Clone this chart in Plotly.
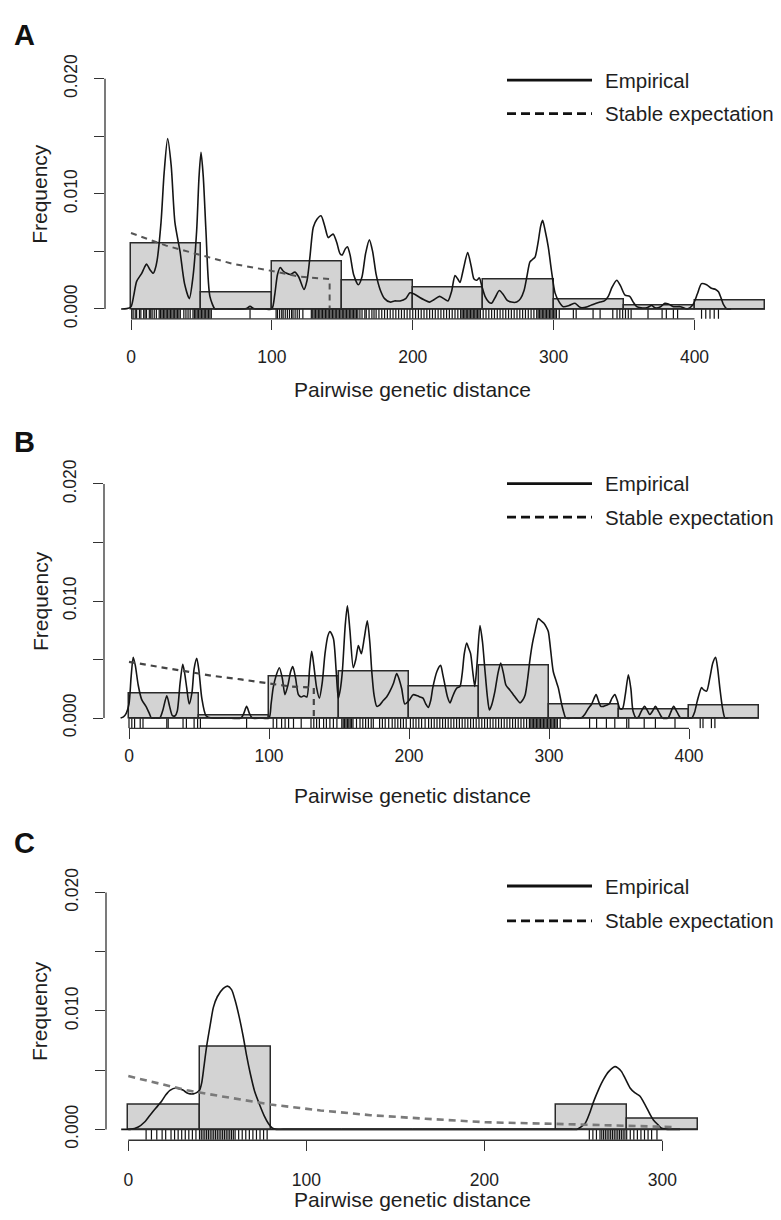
import plotly.graph_objects as go

W, H = 781, 1220

# ---------------- DATA ----------------
# Panel A
a_bin_left = [0, 50, 100, 150, 200, 250, 300, 350, 400]
a_bin_freq = [0.0057, 0.0014, 0.0041, 0.0025, 0.0019, 0.0026, 0.0008, 0.0003, 0.0007]
a_dens_x = [-7, -3, 0, 2, 4, 7.6, 9.5, 11, 13.5, 15.8, 17, 18.5, 21.3, 23.5, 26, 28.5, 31.2, 34.8,
            38, 41.4, 44, 46.6, 48.3, 49.7, 51.3, 53.2, 56, 59.6, 62, 65, 80, 82, 84.5, 87, 89, 95,
            100, 102, 104, 106, 108, 110.5, 113, 116.4, 119, 122.8, 125, 127, 129.4, 132, 134.9,
            137.5, 140, 142, 143.6, 146, 148.4, 150, 152, 153.6, 155.5, 158, 161.4, 164, 166.5,
            169.2, 171.5, 174, 176.8, 180, 183.9, 187, 191, 195, 198, 201, 205, 208, 212, 215, 219,
            222, 225, 227.5, 230, 232, 233.5, 236, 239, 241.5, 243.5, 245.5, 247.3, 249, 251.3, 254,
            256, 258.5, 261.4, 264, 266.7, 270, 273.8, 276.5, 279, 281, 283.2, 285, 286.8, 289,
            290.8, 292.2, 294, 296.2, 298.5, 301, 304, 306.9, 311, 315.2, 318, 320, 324, 328, 333,
            336, 338.8, 341.5, 344.8, 347.5, 350.7, 354, 356.5, 359, 362, 366, 369.6, 372, 376,
            379, 382, 385, 390, 395, 399, 402, 405, 408.6, 412, 415, 417, 419, 420.5, 423, 426]
a_dens_y = [0.0, 0.00003, 0.0002, 0.0012, 0.0024, 0.0031, 0.0036, 0.0039, 0.0034, 0.0031, 0.0034,
            0.0042, 0.0075, 0.0118, 0.0148, 0.0125, 0.0075, 0.0050, 0.0022, 0.0009, 0.0028, 0.0068,
            0.0115, 0.0136, 0.0115, 0.0068, 0.0011, 0.0, 0.0, 0.0, 0.0, 0.00005, 0.00023, 0.00005,
            0.0, 0.0, 0.0, 0.0012, 0.0030, 0.0036, 0.0033, 0.0031, 0.0030, 0.0032, 0.0028, 0.0017,
            0.0025, 0.0045, 0.0071, 0.0078, 0.0081, 0.0072, 0.0062, 0.0064, 0.0065, 0.0058, 0.0048,
            0.0047, 0.0052, 0.0054, 0.0047, 0.0030, 0.0021, 0.0028, 0.0048, 0.0060, 0.0050, 0.0030,
            0.0017, 0.0009, 0.0006, 0.0007, 0.0007, 0.0009, 0.0014, 0.0013, 0.0010, 0.0008, 0.0006,
            0.0008, 0.0011, 0.0009, 0.0007, 0.0015, 0.0029, 0.0026, 0.0023, 0.0035, 0.0049, 0.0037,
            0.0026, 0.0025, 0.0027, 0.0020, 0.0011, 0.0006, 0.0005, 0.0010, 0.0016, 0.0013, 0.0008,
            0.0006, 0.0006, 0.0009, 0.0016, 0.0028, 0.0041, 0.0043, 0.0045, 0.0058, 0.0072, 0.0077,
            0.0068, 0.0054, 0.0033, 0.0014, 0.0006, 0.0002, 0.0003, 0.0005, 0.0002, 0.0001, 0.0002,
            0.0004, 0.0006, 0.0007, 0.0011, 0.0019, 0.0025, 0.0020, 0.0012, 0.0011, 0.0006, 0.0002,
            0.0001, 0.0001, 0.0003, 0.0001, 0.0002, 0.0005, 0.0004, 0.0002, 0.0002, 0.0, 0.0004,
            0.0013, 0.0022, 0.0021, 0.0018, 0.0017, 0.0015, 0.0009, 0.0004, 0.0, 0.0]
a_exp_x = [0, 25, 49, 73, 96, 120, 141, 141]
a_exp_y = [0.0066, 0.0055, 0.0047, 0.0039, 0.0034, 0.0028, 0.0026, 0.0]
a_rug = [0.5, 1.5, 3, 4, 6, 7, 9, 10, 11, 13, 14, 15, 16.5, 18, 20, 21, 22, 23, 24, 25, 26, 27, 28,
         29, 30, 31, 32, 33, 34, 35, 37.5, 39, 40.5, 42, 44, 45, 46, 47, 48, 49, 50, 51, 52, 53, 54,
         55, 56, 57, 84.5, 103, 104, 105.5, 107, 108, 109.5, 111, 112.5, 114, 115, 116.5, 118, 119.5,
         122, 128, 129, 130, 131, 132, 133, 134, 135, 136, 137, 138, 139, 140, 141, 142, 143, 144,
         145, 146, 147, 148, 149, 150, 151, 152, 153, 154, 155, 156, 157, 158, 159, 160, 161, 162.5,
         164, 166, 167, 169, 171, 172.5, 174, 176, 178, 180, 182, 184, 186, 188, 190, 192, 194, 196,
         198, 200, 202, 204, 206, 208, 210, 212, 214, 216, 218, 220, 222, 224, 226, 228, 230, 232,
         234, 235, 236, 237, 238, 239, 240, 241, 242, 243, 244, 245, 246, 247, 248, 250, 252, 254,
         256, 258, 260, 262, 264, 266, 268, 270, 272, 274, 276, 278, 280, 282, 284, 286, 288, 289,
         290, 291, 292, 293, 294, 295, 296, 297, 298, 299, 300, 301, 302, 304, 314, 316, 328, 333,
         342, 345, 347, 349, 351, 353, 355, 367, 377, 380, 385, 388, 405, 408, 411, 414, 417]

# Panel B
b_bin_left = [0, 50, 100, 150, 200, 250, 300, 350, 400]
b_bin_freq = [0.0021, 0.0002, 0.0036, 0.0040, 0.0027, 0.0045, 0.0012, 0.0007, 0.0011]
b_dens_x = [-6, -4, -2, 0, 1.5, 3, 4.5, 6.6, 9, 12.6, 14.5, 16, 19, 22, 24, 27, 29, 31, 33, 34.5,
            36.5, 38.4, 39.8, 41.2, 43, 45, 46.5, 48.4, 50, 52, 55, 59, 70, 80, 82, 84, 86, 88, 94,
            100, 101.5, 103, 105, 107.4, 109.5, 111.4, 113.5, 115.5, 117, 119, 121, 123, 125, 127,
            129, 130.5, 132, 134, 136, 138, 140, 142, 143.6, 146, 148, 149.5, 151, 152.4, 154.5,
            156, 157.8, 160.2, 162, 163.8, 165, 166, 168, 170.2, 172, 173.4, 175, 177, 179, 181.6,
            184, 186.4, 189, 191.2, 193, 194.8, 197, 200, 203, 206, 208, 210, 212, 213.8, 215.5,
            217, 220, 222.6, 224, 225.7, 227.5, 229.3, 231, 232.8, 234.5, 236.4, 238, 239.5, 241.2,
            242.5, 244, 245.5, 247, 248.5, 250.7, 252.5, 254.3, 256, 257.4, 259, 261.4, 263.5,
            265.5, 267.5, 269.3, 272, 274.5, 277, 279.3, 281, 283, 284.8, 286.4, 288.2, 290, 292.4,
            294.5, 296.4, 298, 299.5, 301, 303, 305, 306.6, 308, 309, 310.5, 312, 317, 323, 325.5,
            328, 330.5, 333.6, 335.5, 337, 339, 341, 343, 345, 347, 348.8, 350.7, 352.5, 354.5,
            356.7, 358.5, 360, 362.4, 364, 366, 368.3, 370, 372, 374, 376, 378.5, 381, 385, 387,
            389, 391.5, 394, 398, 402, 404, 406, 409, 410.5, 412.6, 415, 417, 419, 420.5, 422, 424,
            425.7, 428]
b_dens_y = [0.0, 0.0001, 0.0004, 0.0012, 0.0035, 0.0052, 0.0045, 0.0028, 0.0016, 0.0009, 0.0004,
            0.0, 0.0, 0.0, 0.0006, 0.0019, 0.0010, 0.0002, 0.0002, 0.0006, 0.0030, 0.0046, 0.0038,
            0.0026, 0.0012, 0.0022, 0.0042, 0.0051, 0.0040, 0.0017, 0.0002, 0.0, 0.0, 0.0, 0.0004,
            0.0010, 0.0004, 0.0, 0.0, 0.0, 0.0012, 0.0026, 0.0036, 0.0043, 0.0034, 0.0020, 0.0028,
            0.0040, 0.0044, 0.0034, 0.0020, 0.0018, 0.0019, 0.0018, 0.0042, 0.0057, 0.0045, 0.0026,
            0.0017, 0.0030, 0.0055, 0.0070, 0.0074, 0.0068, 0.0040, 0.0017, 0.0025, 0.0040, 0.0080,
            0.0096, 0.0075, 0.0043, 0.0050, 0.0062, 0.0058, 0.0055, 0.0068, 0.0083, 0.0065, 0.0040,
            0.0020, 0.0010, 0.0011, 0.0015, 0.0018, 0.0023, 0.0030, 0.0038, 0.0033, 0.0025, 0.0012,
            0.0015, 0.0020, 0.0019, 0.0018, 0.0017, 0.0012, 0.0009, 0.0015, 0.0026, 0.0040, 0.0045,
            0.0038, 0.0028, 0.0018, 0.0013, 0.0018, 0.0023, 0.0026, 0.0027, 0.0038, 0.0055, 0.0064,
            0.0060, 0.0055, 0.0040, 0.0027, 0.0045, 0.0079, 0.0065, 0.0040, 0.0018, 0.0007, 0.0011,
            0.0023, 0.0038, 0.0047, 0.0038, 0.0028, 0.0024, 0.0020, 0.0016, 0.0013, 0.0015, 0.0020,
            0.0034, 0.0050, 0.0064, 0.0074, 0.0085, 0.0083, 0.0081, 0.0078, 0.0074, 0.0060, 0.0040,
            0.0032, 0.0026, 0.0018, 0.0012, 0.0005, 0.0, 0.0, 0.0, 0.0003, 0.0008, 0.0012, 0.0020,
            0.0014, 0.0010, 0.0010, 0.0011, 0.0012, 0.0017, 0.0020, 0.0015, 0.0008, 0.0008, 0.0020,
            0.0037, 0.0025, 0.0006, 0.0, 0.0001, 0.0006, 0.0010, 0.0007, 0.0003, 0.0006, 0.0010,
            0.0005, 0.0, 0.0, 0.0005, 0.0010, 0.0005, 0.0, 0.0, 0.0, 0.0005, 0.0015, 0.0026, 0.0024,
            0.0023, 0.0035, 0.0047, 0.0052, 0.0042, 0.0026, 0.0008, 0.0, 0.0]
b_exp_x = [0, 20, 40, 60, 80, 98, 115, 132, 132]
b_exp_y = [0.0048, 0.0044, 0.0040, 0.0036, 0.0033, 0.0030, 0.0027, 0.0026, 0.0]
b_rug = [0, 2, 4, 8, 10, 27, 28, 38.6, 41, 46.5, 49, 51, 84, 103, 105.5, 109, 111.5, 114, 117.5,
         123, 130, 132, 134, 136, 139, 141, 143.5, 146, 148.5, 152, 153, 154, 155, 156, 157, 158,
         159, 160, 162.5, 165, 167, 169, 171, 173, 174.5, 179, 181, 183, 185.5, 188, 190, 192, 194,
         196, 198, 201, 203, 205, 207, 209, 211.5, 214, 216, 218, 220, 222, 224, 226, 228, 230, 232,
         234, 236, 238, 240, 242, 244, 246, 248, 250, 252, 254, 256, 258, 260, 262, 264, 266, 268,
         270, 272, 274, 276, 278, 280, 282, 284, 286, 287, 288, 289, 290, 291, 292, 293, 294, 295,
         296, 297, 298, 299, 300, 301, 302, 303, 304, 305, 306, 308, 329, 334, 341, 347, 355.5, 357,
         368, 376, 390, 408, 410, 416, 418.5]

# Panel C
c_bin_left = [0, 40, 80, 120, 160, 200, 240, 280]
c_bin_freq = [0.0021, 0.0070, 0.0, 0.0, 0.0, 0.0, 0.0021, 0.0009]
c_dens_x = [-4, -2, 1, 5.6, 9, 12.2, 15.5, 18.8, 21, 23.4, 26.8, 29, 30.9, 32.8, 34.7, 36.5, 38.4,
            40, 41.2, 42.5, 44, 46, 47.8, 50, 53.4, 55.7, 58, 60, 62.3, 64.6, 66.5, 68.4, 71, 74,
            76.5, 78.7, 81, 83, 87, 95, 120, 160, 200, 240, 246, 249, 252, 256.6, 259, 261.3, 264,
            266.9, 270, 273.4, 275, 277, 279.5, 281.9, 284.5, 287.5, 289.5, 291.3, 293, 295, 297.5,
            299.6, 303, 306, 310]
c_dens_y = [0.0, 0.0, 0.0, 0.0002, 0.0006, 0.0012, 0.0018, 0.0024, 0.0029, 0.0033, 0.0035, 0.0034,
            0.0033, 0.0031, 0.0030, 0.0030, 0.0031, 0.0033, 0.0039, 0.0053, 0.0070, 0.0088, 0.0103,
            0.0112, 0.0119, 0.0121, 0.0118, 0.0109, 0.0095, 0.0078, 0.0062, 0.0048, 0.0032, 0.0020,
            0.0011, 0.0005, 0.0001, 0.0, 0.0, 0.0, 0.0, 0.0, 0.0, 0.0, 0.0, 0.0, 0.0, 0.0005, 0.0013,
            0.0023, 0.0033, 0.0042, 0.0049, 0.0053, 0.0052, 0.0049, 0.0042, 0.0035, 0.0031, 0.0028,
            0.0023, 0.0018, 0.0013, 0.0008, 0.0004, 0.0001, 0.0, 0.0, 0.0]
c_exp_x = [0, 33, 52, 80, 108, 136, 167, 201, 239, 276, 306]
c_exp_y = [0.0045, 0.0033, 0.0028, 0.0021, 0.0016, 0.0012, 0.0009, 0.0006, 0.00047, 0.00033, 0.0002]
c_rug = [10, 13, 16, 19, 21, 24, 26, 28, 30, 32, 34, 36, 38, 40, 41, 42, 43, 44, 45, 46, 47, 48, 49,
         50, 51, 52, 53, 54, 55, 56, 57, 58, 59, 60, 62, 64, 66, 68, 70, 72, 74, 76, 78, 259, 261,
         263, 265, 266, 267, 268, 269, 270, 271, 272, 273, 274, 275, 276, 277, 278, 279, 280, 282,
         284, 286, 288, 290, 292, 294, 297]

x_ticks_ab = [0, 100, 200, 300, 400]
x_ticks_c = [0, 100, 200, 300]
y_ticks = [0, 0.005, 0.010, 0.015, 0.020]
y_tick_text = ["0.000", "", "0.010", "", "0.020"]
panel_letters = ["A", "B", "C"]
legend_labels = ["Empirical", "Stable expectation"]
x_title = "Pairwise genetic distance"
y_title = "Frequency"

# ---------------- LAYOUT GEOMETRY (pixels) ----------------
FONT = "Liberation Sans, Arial, Helvetica, sans-serif"
TXT = "#1e1e1e"
panels = [
    dict(bins=a_bin_left, freq=a_bin_freq, bw=50, dx=a_dens_x, dy=a_dens_y, ex=a_exp_x, ey=a_exp_y,
         rug=a_rug, xt=x_ticks_ab, x0px=131, xppu=1.40875, y0px=306, yppu=11665, left=105,
         bottom=316, axis_end=400, standoff=12, letter_y=28, leg_y=(74, 108), xtitle_y=387.5,
         exp_style=dict(color="#555555", width=2, dash="6px,5px")),
    dict(bins=b_bin_left, freq=b_bin_freq, bw=50, dx=b_dens_x, dy=b_dens_y, ex=b_exp_x, ey=b_exp_y,
         rug=b_rug, xt=x_ticks_ab, x0px=129, xppu=1.40, y0px=720.5, yppu=11860, left=104,
         bottom=731, axis_end=400, standoff=2, letter_y=441, leg_y=(483, 517), xtitle_y=799,
         exp_style=dict(color="#444444", width=2.2, dash="6px,5px")),
    dict(bins=c_bin_left, freq=c_bin_freq, bw=40, dx=c_dens_x, dy=c_dens_y, ex=c_exp_x, ey=c_exp_y,
         rug=c_rug, xt=x_ticks_c, x0px=128.3, xppu=1.78, y0px=1137.3, yppu=12000, left=106,
         bottom=1148.3, axis_end=300, standoff=14, letter_y=847, leg_y=(890.7, 926), xtitle_y=1208,
         exp_style=dict(color="#7a7a7a", width=2.6, dash="7px,5px")),
]
RIGHT = 779

fig = go.Figure()
shapes, annotations = [], []
layout_axes = {}

for i, p in enumerate(panels):
    n = "" if i == 0 else str(i + 1)
    xa, ya = "x" + n, "y" + n
    top_px = p["y0px"] - 0.0215 * p["yppu"]
    xr = [(p["left"] - p["x0px"]) / p["xppu"], (RIGHT - p["x0px"]) / p["xppu"]]
    yr = [(p["y0px"] - p["bottom"]) / p["yppu"], (p["y0px"] - top_px) / p["yppu"]]
    layout_axes["xaxis" + n] = dict(
        domain=[p["left"] / W, RIGHT / W], range=xr, anchor=ya, showgrid=False, zeroline=False,
        showline=False, tickvals=p["xt"], ticktext=[str(v) for v in p["xt"]], ticks="outside",
        ticklen=10, tickwidth=1.3, tickcolor="#333", ticklabelstandoff=p["standoff"],
        tickfont=dict(family=FONT, size=17.5, color=TXT), fixedrange=True)
    layout_axes["yaxis" + n] = dict(
        domain=[1 - p["bottom"] / H, 1 - top_px / H], range=yr, anchor=xa, showgrid=False,
        zeroline=False, showline=False, tickvals=y_ticks, ticktext=y_tick_text, tickangle=-90,
        ticks="outside", ticklen=10, tickwidth=1.3, tickcolor="#333", ticklabelstandoff=10,
        tickfont=dict(family=FONT, size=17.5, color=TXT), fixedrange=True)

    # histogram
    fig.add_trace(go.Bar(x=p["bins"], y=p["freq"], width=p["bw"], offset=0, xaxis=xa, yaxis=ya,
                         marker=dict(color="#d3d3d3", line=dict(color="#2a2a2a", width=1.5)),
                         hoverinfo="skip"))
    # empirical density
    fig.add_trace(go.Scatter(x=p["dx"], y=p["dy"], mode="lines", xaxis=xa, yaxis=ya,
                             line=dict(color="#151515", width=1.6, shape="spline", smoothing=0.7)))
    # stable expectation
    fig.add_trace(go.Scatter(x=p["ex"], y=p["ey"], mode="lines", xaxis=xa, yaxis=ya,
                             line=p["exp_style"]))
    # rug
    rug_y = -(p["bottom"] - p["y0px"]) / 2 / p["yppu"]
    fig.add_trace(go.Scatter(x=p["rug"], y=[rug_y] * len(p["rug"]), mode="markers", xaxis=xa,
                             yaxis=ya, marker=dict(symbol="line-ns", size=7.2,
                                                   line=dict(width=1.2, color="#111111"))))

    # histogram baseline (zero-height bins) and R-style axis lines
    last_edge = p["bins"][-1] + p["bw"]
    shapes.append(dict(type="line", xref=xa, yref=ya, x0=0, x1=last_edge, y0=0, y1=0,
                       line=dict(color="#2a2a2a", width=1.5), layer="above"))
    shapes.append(dict(type="line", xref=xa, yref=ya + " domain", x0=0, x1=p["axis_end"], y0=0,
                       y1=0, line=dict(color="#333", width=1.3)))
    shapes.append(dict(type="line", xref=xa + " domain", yref=ya, x0=0, x1=0, y0=0, y1=0.02,
                       line=dict(color="#333", width=1.3)))

    # panel letter
    annotations.append(dict(text="<b>%s</b>" % panel_letters[i], xref="paper", yref="paper",
                            x=24 / W, y=1 - p["letter_y"] / H, xanchor="center", yanchor="middle",
                            showarrow=False, font=dict(family=FONT, size=29, color="#111")))
    # axis titles
    annotations.append(dict(text=x_title, xref="paper", yref="paper", x=412 / W,
                            y=1 - p["xtitle_y"] / H, xanchor="center", yanchor="middle",
                            showarrow=False, font=dict(family=FONT, size=21, color=TXT)))
    annotations.append(dict(text=y_title, xref="paper", yref=ya, x=40 / W, y=0.01,
                            xanchor="center", yanchor="middle", textangle=-90, showarrow=False,
                            font=dict(family=FONT, size=21, color=TXT)))
    # legend
    for j, lbl in enumerate(legend_labels):
        ly = 1 - p["leg_y"][j] / H
        shapes.append(dict(type="line", xref="paper", yref="paper", x0=507 / W, x1=592 / W,
                           y0=ly, y1=ly, line=dict(color="#111", width=2.8,
                                                   dash="solid" if j == 0 else "9px,5px")))
        annotations.append(dict(text=lbl, xref="paper", yref="paper", x=603 / W, y=ly,
                                xanchor="left", yanchor="middle", showarrow=False,
                                font=dict(family=FONT, size=20.5, color=TXT)))

fig.update_layout(width=W, height=H, margin=dict(l=0, r=0, t=0, b=0), paper_bgcolor="white",
                  plot_bgcolor="white", showlegend=False, shapes=shapes, annotations=annotations,
                  bargap=0, **layout_axes)
fig.write_html("out.html", config={"displayModeBar": False},
               post_script="document.body.style.margin='0';document.body.style.overflow='hidden';")
